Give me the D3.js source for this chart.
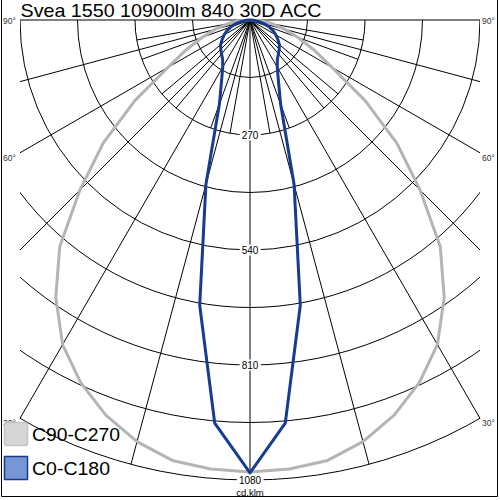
<!DOCTYPE html>
<html><head><meta charset="utf-8">
<script src="https://cdn.jsdelivr.net/npm/d3@7"></script>
<style>html,body{margin:0;padding:0;background:#fff;}svg{display:block;}</style>
</head><body>
<svg id="chart" width="500" height="500"></svg>
<script>
// ---- data ----
const title = "Svea 1550 10900lm 840 30D ACC";
const gammaAngles = [0,5,10,15,20,25,30,35,40,45,50,55,60,65,70,75,80,85,90];
const seriesC0C180 = [1063,950,680,400,210,158,128,112,104,97,90,80,70,60,48,35,22,10,0];
const seriesC90C270 = [1061,1058,1050,1025,988,940,880,795,695,565,450,330,222,165,120,85,55,28,0];
const ringValues = [135,270,405,540,675,810,945,1080];
const ringLabels = [270,540,810,1080];
const spokeAngles = [-90,-75,-60,-45,-30,-15,0,15,30,45,60,75,90];
const innerSpokeAngles = [-80,-70,-50,-40,-20,-10,10,20,40,50,70,80];
const innerSpokeValue = 270;
const angleLabels = [90,60,30];
const legendNames = ["C90-C270","C0-C180"];
const unitLabel = "cd.klm";

// ---- layout ----
const svg = d3.select("#chart");
const cx = 250, cy = 20, rMax = 460;
const xL = 20, xR = 480;
const r = d3.scaleLinear().domain([0,1080]).range([0,rMax]);
const rad = d => d*Math.PI/180;
const font = "'Liberation Sans', Arial, sans-serif";

// outer frame
svg.append("path").attr("d","M1.5,0 V496.5 H497.5 V0")
  .attr("fill","none").attr("stroke","#000").attr("stroke-width",1);

// clip for grid
svg.append("clipPath").attr("id","gclip").append("rect")
  .attr("x",xL).attr("y",cy).attr("width",xR-xL).attr("height",500-cy);

const grid = svg.append("g").attr("clip-path","url(#gclip)");
grid.selectAll("circle").data(ringValues).join("circle")
  .attr("cx",cx).attr("cy",cy).attr("r",d=>r(d))
  .attr("fill","none").attr("stroke","#000").attr("stroke-width",1);

function spokeEnd(a){
  const s = Math.sin(rad(a)), c = Math.cos(rad(a));
  let t = rMax;
  if (Math.abs(s) > 1e-9) t = Math.min(t, (xR-cx)/Math.abs(s));
  return [cx + t*s, cy + t*c];
}
svg.append("g").selectAll("line").data(spokeAngles).join("line")
  .attr("x1",cx).attr("y1",cy)
  .attr("x2",d=>spokeEnd(d)[0]).attr("y2",d=>spokeEnd(d)[1])
  .attr("stroke","#000").attr("stroke-width",1);
svg.append("g").selectAll("line").data(innerSpokeAngles).join("line")
  .attr("x1",cx).attr("y1",cy)
  .attr("x2",d=>cx + r(innerSpokeValue)*Math.sin(rad(d)))
  .attr("y2",d=>cy + r(innerSpokeValue)*Math.cos(rad(d)))
  .attr("stroke","#000").attr("stroke-width",1);

// curves
function curvePoints(vals){
  const pts = [];
  for (let i = gammaAngles.length-1; i >= 0; i--) pts.push([-gammaAngles[i], vals[i]]);
  for (let i = 1; i < gammaAngles.length; i++) pts.push([gammaAngles[i], vals[i]]);
  return pts;
}
const line = d3.line()
  .x(d => cx + r(d[1])*Math.sin(rad(d[0])))
  .y(d => cy + r(d[1])*Math.cos(rad(d[0])));

svg.append("path").datum(curvePoints(seriesC90C270)).attr("d",line)
  .attr("fill","none").attr("stroke","#b4b4b4").attr("stroke-width",3).attr("stroke-linejoin","round");
svg.append("path").datum(curvePoints(seriesC0C180)).attr("d",line)
  .attr("fill","none").attr("stroke","#163b8f").attr("stroke-width",3).attr("stroke-linejoin","round");

// ring labels
const rl = svg.append("g");
ringLabels.forEach(v => {
  const y = cy + r(v);
  const t = rl.append("text").attr("x",cx).attr("y",y).attr("text-anchor","middle")
    .attr("dominant-baseline","central").attr("font-family",font).attr("font-size",10)
    .attr("fill","#000").text(v);
  const bb = t.node().getBBox();
  rl.insert("rect","text").attr("x",bb.x-2).attr("y",bb.y).attr("width",bb.width+4).attr("height",bb.height).attr("fill","#fff");
});
svg.append("text").attr("x",cx).attr("y",492).attr("text-anchor","middle").attr("dominant-baseline","central")
  .attr("font-family",font).attr("font-size",9.5).attr("fill","#000").text(unitLabel);

// angle labels
angleLabels.forEach(a => {
  const e = spokeEnd(a);
  const y = a === 90 ? e[1] + 0.5 : e[1] + 5;
  svg.append("text").attr("x",482).attr("y",y).attr("dominant-baseline","central")
    .attr("font-family",font).attr("font-size",8.5).attr("fill","#333").text(a+"°");
  svg.append("text").attr("x",3).attr("y",y).attr("dominant-baseline","central")
    .attr("font-family",font).attr("font-size",8.5).attr("fill","#333").text(a+"°");
});

// title
svg.append("text").attr("x",20.5).attr("y",17.3).attr("font-family",font).attr("font-size",18.5)
  .attr("textLength",301).attr("lengthAdjust","spacingAndGlyphs")
  .attr("fill","#000").text(title);

// legend
const lg = svg.append("g");
const legendStyles = [{fill:"#d6d6d6",stroke:"#c4c4c4",w:88},{fill:"#7796d6",stroke:"#163b8f",w:78}];
legendNames.forEach((n,i) => {
  const y0 = 422.5 + i*34;
  lg.append("rect").attr("x",4.5).attr("y",y0).attr("width",23).attr("height",23).attr("rx",i===0?2:0)
    .attr("fill",legendStyles[i].fill).attr("stroke",legendStyles[i].stroke).attr("stroke-width",1.5);
  lg.append("text").attr("x",32).attr("y",y0+18.5).attr("font-family",font).attr("font-size",18.5)
    .attr("textLength",legendStyles[i].w).attr("lengthAdjust","spacingAndGlyphs")
    .attr("fill","#000").text(n);
});
</script>
</body></html>
